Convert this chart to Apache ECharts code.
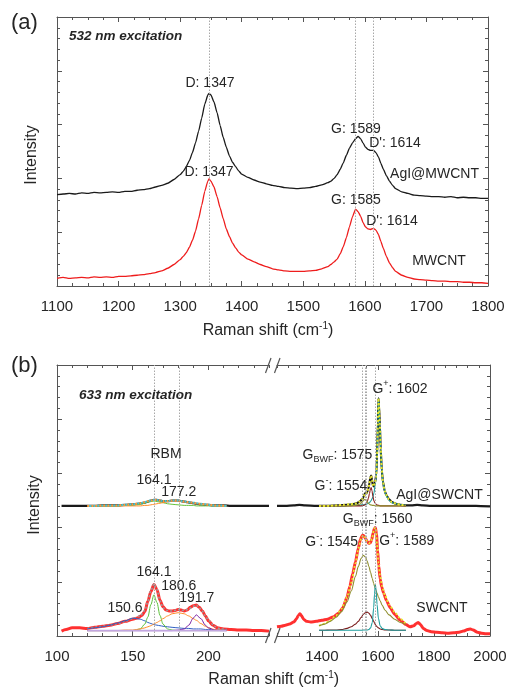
<!DOCTYPE html>
<html><head><meta charset="utf-8">
<script src="https://cdn.jsdelivr.net/npm/echarts@6/dist/echarts.min.js"></script>
<style>html,body{margin:0;padding:0;background:#fff}#c{width:506px;height:688px}</style>
</head><body><div id="c"></div>
<script>
// ---------- Panel (a): 532 nm ----------
const shiftA = [1100,1110,1120,1130,1140,1150,1160,1170,1180,1190,1200,1210,1220,1230,1240,1250,1260,1270,1280,1290,1300,
  1305,1310,1315,1320,1325,1330,1335,1340,1345,1347,1350,1355,1360,1365,1370,1375,1380,1385,1390,1395,1400,
  1410,1420,1430,1440,1450,1460,1470,1480,1490,1500,1510,1520,1530,1540,1545,1550,1555,1560,1565,1570,1575,1580,1585,
  1589,1593,1597,1601,1605,1609,1614,1618,1622,1626,1630,1635,1640,1645,1650,
  1660,1670,1680,1690,1700,1710,1720,1730,1740,1750,1760,1770,1780,1790,1800];
const agiMwcnt = [1.70,1.71,1.72,1.71,1.73,1.72,1.74,1.73,1.74,1.75,1.74,1.76,1.76,1.78,1.79,1.81,1.84,1.87,1.91,1.98,2.07,
  2.13,2.22,2.33,2.48,2.66,2.88,3.12,3.38,3.55,3.58,3.55,3.42,3.22,2.98,2.76,2.58,2.42,2.30,2.22,2.14,2.08,
  2.02,1.97,1.93,1.90,1.87,1.85,1.83,1.82,1.81,1.82,1.83,1.85,1.88,1.92,1.95,2.00,2.07,2.17,2.29,2.43,2.56,2.66,2.74,
  2.78,2.74,2.66,2.58,2.54,2.52,2.52,2.48,2.40,2.28,2.17,2.05,1.95,1.87,1.81,
  1.75,1.72,1.69,1.68,1.67,1.66,1.66,1.65,1.66,1.64,1.65,1.64,1.64,1.63,1.63];
const mwcnt = [0.14,0.16,0.14,0.15,0.16,0.15,0.17,0.16,0.17,0.16,0.18,0.18,0.19,0.20,0.21,0.23,0.25,0.28,0.33,0.40,0.49,
  0.55,0.62,0.72,0.85,1.02,1.25,1.50,1.76,1.95,1.99,1.95,1.84,1.66,1.45,1.25,1.06,0.92,0.80,0.71,0.63,0.58,
  0.50,0.45,0.40,0.36,0.32,0.30,0.28,0.27,0.27,0.27,0.28,0.29,0.32,0.36,0.40,0.45,0.50,0.60,0.73,0.90,1.10,1.29,1.43,
  1.38,1.30,1.18,1.10,1.06,1.05,1.07,1.04,0.96,0.83,0.70,0.55,0.43,0.34,0.27,
  0.20,0.16,0.13,0.12,0.11,0.10,0.09,0.09,0.08,0.08,0.07,0.07,0.06,0.06,0.05];
const vLinesA = [1347, 1585, 1614];
const xTicksA = [1100, 1200, 1300, 1400, 1500, 1600, 1700, 1800];

// ---------- Panel (b) left: RBM ----------
const shiftBL = [103,106,110,115,120,125,130,135,140,145,150,153,156,158,160,162,164,166,168,170,172,174,176,178,180,182,184,186,188,190,192,194,196,198,200,203,206,210,215,220,225,230,235,240];
const swcntL = [0.09,0.12,0.15,0.15,0.14,0.16,0.18,0.20,0.23,0.27,0.31,0.33,0.38,0.45,0.64,0.82,0.95,0.86,0.66,0.54,0.48,0.46,0.46,0.47,0.49,0.48,0.46,0.48,0.53,0.56,0.57,0.53,0.46,0.37,0.28,0.20,0.15,0.13,0.12,0.11,0.11,0.10,0.10,0.09];
const agiSwcntL = [2.40,2.40,2.40,2.40,2.40,2.40,2.41,2.41,2.41,2.42,2.43,2.44,2.45,2.46,2.48,2.50,2.51,2.51,2.50,2.49,2.49,2.49,2.50,2.50,2.50,2.49,2.48,2.47,2.46,2.45,2.44,2.43,2.43,2.42,2.42,2.41,2.41,2.41,2.40,2.40,2.40,2.40,2.40,2.40];
const fitLX = [120,125,130,135,140,145,150,155,158,160,162,164,166,168,170,173,176,180,184,187,190,192,195,198,200,204,208,212];
const fitL_total = [0.14,0.16,0.18,0.20,0.23,0.27,0.32,0.37,0.47,0.64,0.84,0.96,0.86,0.65,0.52,0.47,0.46,0.49,0.47,0.50,0.55,0.57,0.50,0.37,0.29,0.18,0.13,0.12];
const fitL_150 = [0.13,0.15,0.17,0.20,0.24,0.28,0.33,0.31,0.28,0.25,0.23,0.21,0.20,0.19,0.18,0.17,0.16,0.15,0.14,0.14,0.13,0.13,0.13,0.12,0.12,0.12,0.11,0.11];
const fitL_164 = [0.10,0.10,0.10,0.10,0.10,0.10,0.10,0.13,0.22,0.35,0.58,0.76,0.62,0.38,0.22,0.13,0.11,0.10,0.10,0.10,0.10,0.10,0.10,0.10,0.10,0.10,0.10,0.10];
const fitL_180 = [0.10,0.10,0.10,0.10,0.10,0.11,0.11,0.13,0.15,0.17,0.19,0.22,0.25,0.28,0.32,0.37,0.41,0.43,0.41,0.37,0.32,0.29,0.23,0.18,0.15,0.12,0.11,0.10];
const fitL_191 = [0.10,0.10,0.10,0.10,0.10,0.10,0.10,0.10,0.10,0.10,0.10,0.10,0.10,0.10,0.10,0.10,0.10,0.11,0.13,0.20,0.33,0.39,0.32,0.20,0.15,0.11,0.10,0.10];
const baseLX = [120, 212];
const baseL = [0.10, 0.10];
const fitL2_total = [2.40,2.40,2.41,2.41,2.41,2.42,2.43,2.45,2.47,2.49,2.50,2.51,2.51,2.50,2.49,2.49,2.50,2.50,2.48,2.47,2.46,2.45,2.44,2.43,2.42,2.41,2.41,2.40];
const fitL2_164 = [2.40,2.40,2.40,2.40,2.40,2.41,2.41,2.43,2.45,2.47,2.48,2.49,2.48,2.47,2.46,2.44,2.43,2.42,2.41,2.41,2.41,2.40,2.40,2.40,2.40,2.40,2.40,2.40];
const fitL2_177 = [2.40,2.40,2.40,2.40,2.40,2.40,2.40,2.40,2.41,2.41,2.42,2.43,2.44,2.45,2.46,2.48,2.49,2.49,2.47,2.46,2.45,2.44,2.43,2.42,2.42,2.41,2.40,2.40];
const vLinesBL = [164.1, 180.6];
const xTicksBL = [100, 150, 200];

// ---------- Panel (b) right: G band ----------
const shiftBR = [1240,1255,1270,1285,1300,1310,1316,1322,1328,1335,1345,1360,1380,1400,1420,1440,1460,1475,1490,1500,1510,1520,1530,1538,1545,1550,1556,1562,1568,1573,1578,1583,1587,1591,1595,1599,1603,1608,1614,1620,1630,1644,1660,1680,1700,1715,1728,1737,1744,1752,1762,1775,1790,1810,1830,1850,1870,1890,1905,1920,1930,1940,1955,1970,1985,2000];
const swcntR = [0.17,0.18,0.20,0.22,0.26,0.32,0.38,0.41,0.37,0.31,0.27,0.26,0.27,0.29,0.31,0.35,0.42,0.52,0.72,0.92,1.15,1.37,1.62,1.79,1.86,1.85,1.80,1.74,1.71,1.72,1.78,1.90,1.98,2.00,1.88,1.58,1.30,1.05,0.90,0.80,0.66,0.52,0.40,0.29,0.21,0.17,0.19,0.23,0.25,0.21,0.14,0.10,0.08,0.07,0.06,0.05,0.06,0.07,0.09,0.12,0.13,0.11,0.07,0.05,0.04,0.04];
const shiftBR2 = [1240,1270,1300,1320,1340,1380,1420,1460,1490,1510,1525,1535,1545,1550,1554,1558,1562,1566,1570,1573,1576,1579,1582,1586,1590,1594,1597,1600,1602,1604,1607,1610,1614,1618,1624,1630,1640,1650,1665,1680,1700,1720,1740,1760,1790,1830,1870,1910,1950,2000];
const agiSwcntR = [2.40,2.40,2.41,2.42,2.41,2.40,2.40,2.41,2.42,2.43,2.45,2.48,2.53,2.58,2.63,2.62,2.66,2.72,2.82,2.92,2.96,2.88,2.78,2.76,2.84,2.97,3.30,3.95,4.385,4.25,3.90,3.45,3.05,2.85,2.68,2.60,2.52,2.47,2.44,2.42,2.41,2.41,2.42,2.41,2.40,2.40,2.40,2.40,2.40,2.39];
const fitR1X = [1390,1420,1450,1480,1500,1515,1525,1535,1540,1545,1550,1554,1558,1562,1566,1570,1573,1576,1579,1582,1586,1590,1594,1597,1600,1602,1604,1607,1610,1614,1618,1624,1630,1640,1650,1665,1680,1700];
const fitR1_total = [2.40,2.40,2.41,2.42,2.43,2.44,2.45,2.48,2.50,2.53,2.58,2.63,2.62,2.66,2.72,2.82,2.92,2.96,2.88,2.78,2.76,2.84,2.97,3.30,3.95,4.385,4.25,3.90,3.45,3.05,2.85,2.68,2.60,2.52,2.47,2.44,2.42,2.41];
const fitR1_Gp = [2.40,2.40,2.40,2.40,2.41,2.41,2.41,2.41,2.42,2.42,2.42,2.43,2.43,2.44,2.45,2.46,2.48,2.50,2.53,2.56,2.64,2.78,2.93,3.28,3.94,4.38,4.24,3.89,3.44,3.04,2.84,2.67,2.58,2.50,2.46,2.44,2.42,2.41];
const fitR1_BWF = [2.40,2.40,2.40,2.40,2.40,2.40,2.40,2.40,2.40,2.41,2.41,2.42,2.44,2.48,2.54,2.63,2.70,2.74,2.68,2.58,2.49,2.45,2.43,2.42,2.41,2.41,2.41,2.40,2.40,2.40,2.40,2.40,2.40,2.40,2.40,2.40,2.40,2.40];
const fitR1_Gm = [2.40,2.40,2.40,2.40,2.40,2.41,2.42,2.43,2.45,2.48,2.51,2.52,2.51,2.48,2.45,2.43,2.42,2.42,2.41,2.41,2.41,2.40,2.40,2.40,2.40,2.40,2.40,2.40,2.40,2.40,2.40,2.40,2.40,2.40,2.40,2.40,2.40,2.40];
const fitR2X = [1390,1410,1430,1450,1470,1490,1505,1520,1530,1540,1548,1555,1562,1568,1574,1580,1585,1588,1591,1594,1597,1602,1608,1615,1625,1640,1660,1680,1700];
const fitR2_total = [0.19,0.23,0.29,0.37,0.50,0.72,0.98,1.34,1.60,1.80,1.86,1.82,1.74,1.71,1.73,1.82,1.94,1.99,2.00,1.90,1.68,1.35,1.10,0.92,0.75,0.58,0.44,0.32,0.22];
const fitR2_Gm = [0.19,0.22,0.27,0.34,0.45,0.63,0.83,1.10,1.28,1.43,1.49,1.46,1.38,1.28,1.17,1.06,0.97,0.92,0.87,0.83,0.79,0.72,0.65,0.57,0.48,0.39,0.31,0.25,0.21];
const fitR2_BWF = [0.105,0.105,0.11,0.11,0.12,0.14,0.17,0.22,0.27,0.34,0.40,0.43,0.44,0.42,0.38,0.32,0.27,0.24,0.21,0.19,0.17,0.15,0.13,0.12,0.11,0.11,0.105,0.105,0.105];
const fitR2_Gp = [0.105,0.105,0.105,0.105,0.105,0.105,0.105,0.105,0.105,0.105,0.11,0.11,0.11,0.12,0.15,0.25,0.52,0.78,0.95,0.82,0.58,0.32,0.19,0.14,0.12,0.11,0.105,0.105,0.105];
const vLinesBR = [1545, 1554, 1560, 1589];
const xTicksBR = [1400, 1600, 1800, 2000];

// ---------- rendering ----------
const FONT = '"Liberation Sans", Arial, Helvetica, sans-serif';
const AX = '#555';
const TXT = '#262626';
const chart = echarts.init(document.getElementById('c'));
const pairs = (xs, ys) => xs.map((x, i) => [x, ys[i]]);

function xAxisDef(grid, pos, min, max, interval, o) {
  o = o || {};
  return {
    type: 'value', gridIndex: grid, position: pos, min, max, interval,
    axisLine: { show: o.line !== false, onZero: false, lineStyle: { color: AX, width: 1 } },
    axisTick: Object.assign({ show: true, inside: true, length: o.tickLen || 5, lineStyle: { color: AX } }, o.tickCustom ? { customValues: o.tickCustom } : {}),
    minorTick: { show: !!o.minor, splitNumber: o.minor || 5, length: 3, lineStyle: { color: AX } },
    axisLabel: Object.assign({ show: !!o.labels, fontSize: 15, color: TXT, fontFamily: FONT, margin: 13,
      formatter: v => String(v) }, o.labels && o.labels !== true ? { customValues: o.labels } : {}),
    splitLine: { show: false }, minorSplitLine: { show: false }
  };
}
function yAxisDef(grid, pos) {
  return {
    type: 'value', gridIndex: grid, position: pos, min: 0, max: 5, interval: 1,
    axisLine: { show: true, onZero: false, lineStyle: { color: AX, width: 1 } },
    axisTick: { show: true, inside: true, length: 5, lineStyle: { color: AX } },
    minorTick: { show: true, splitNumber: 5, length: 3, lineStyle: { color: AX } },
    axisLabel: { show: false }, splitLine: { show: false }
  };
}

const xAxes = [
  xAxisDef(0, 'bottom', 1100, 1800, 100, { minor: 4, labels: xTicksA }),
  xAxisDef(0, 'top', 1100, 1800, 100, { minor: 4 }),
  // b-left major / minor (bottom, top)
  xAxisDef(1, 'bottom', 100, 240, 10, { tickCustom: xTicksBL, labels: xTicksBL }),
  xAxisDef(1, 'bottom', 100, 240, 10, { line: false, tickLen: 3 }),
  xAxisDef(1, 'top', 100, 240, 10, { tickCustom: xTicksBL }),
  xAxisDef(1, 'top', 100, 240, 10, { line: false, tickLen: 3 }),
  // b-right
  xAxisDef(2, 'bottom', 1240, 2000, 40, { tickCustom: xTicksBR, labels: xTicksBR }),
  xAxisDef(2, 'bottom', 1240, 2000, 40, { line: false, tickLen: 3 }),
  xAxisDef(2, 'top', 1240, 2000, 40, { tickCustom: xTicksBR }),
  xAxisDef(2, 'top', 1240, 2000, 40, { line: false, tickLen: 3 })
];
const yAxes = [yAxisDef(0, 'left'), yAxisDef(0, 'right'), yAxisDef(1, 'left'), yAxisDef(2, 'right')];

function S(xs, ys, xi, yi, color, width, extra) {
  return Object.assign({
    type: 'line', xAxisIndex: xi, yAxisIndex: yi, data: pairs(xs, ys),
    symbol: 'none', showSymbol: false, silent: true, animation: false,
    smooth: 0.3, smoothMonotone: 'x',
    lineStyle: { color, width }
  }, extra || {});
}
function vlines(vals) {
  return {
    silent: true, symbol: ['none', 'none'], animation: false,
    label: { show: false },
    lineStyle: { color: '#a8a8a8', type: [1.5, 1.5], width: 1 },
    data: vals.map(v => ({ xAxis: v }))
  };
}
const dotted = (c, w, off) => ({ lineStyle: { color: c, width: w, type: [2, 2], dashOffset: off || 0 } });

const series = [
  S(shiftA, agiMwcnt, 0, 0, '#1a1a1a', 1.3, { smooth: 0.15 }),
  S(shiftA, mwcnt, 0, 0, '#ee1c1c', 1.3, { smooth: 0.15, markLine: vlines(vLinesA) }),

  // b-left
  S(shiftBL, agiSwcntL, 2, 2, '#1a1a1a', 2.2),
  S(shiftBL, swcntL, 2, 2, '#ff3030', 3, { markLine: vlines(vLinesBL) }),
  S(fitLX, fitL2_164, 2, 2, '#66c23a', 1),
  S(fitLX, fitL2_177, 2, 2, '#ff8c2a', 1),
  S(fitLX, fitL2_total, 2, 2, '#ff9a3c', 2, dotted('#ff9a3c', 2, 0)),
  S(fitLX, fitL2_total, 2, 2, '#4cc3cf', 2, dotted('#4cc3cf', 2, 2)),
  S(fitLX, fitL_total, 2, 2, '#9a9a9a', 1.6, dotted('#9a9a9a', 1.6)),
  S(fitLX, fitL_150, 2, 2, '#2f5fc4', 1),
  S(fitLX, fitL_164, 2, 2, '#5cc23a', 1),
  S(fitLX, fitL_180, 2, 2, '#ff8c2a', 1),
  S(fitLX, fitL_191, 2, 2, '#7b1fa2', 1),
  S(baseLX, baseL, 2, 2, '#c2a6e0', 1.6, { smooth: false }),

  // b-right
  S(shiftBR2, agiSwcntR, 6, 3, '#1a1a1a', 2.2, { smooth: 0.2 }),
  S(shiftBR, swcntR, 6, 3, '#ff3030', 3, { smooth: 0.2, markLine: vlines(vLinesBR) }),
  S(fitR1X, fitR1_Gp, 6, 3, '#1f9e9e', 1.1),
  S(fitR1X, fitR1_BWF, 6, 3, '#8a1f1f', 1.1),
  S(fitR1X, fitR1_Gm, 6, 3, '#8f8f2e', 1.1),
  S(fitR1X, fitR1_total, 6, 3, '#e6e62e', 2, Object.assign({ smooth: 0.2 }, dotted('#e6e62e', 2))),
  S(fitR2X, fitR2_total, 6, 3, '#e6e62e', 1.8, Object.assign({ smooth: 0.2 }, dotted('#e6e62e', 1.8))),
  S(fitR2X, fitR2_Gm, 6, 3, '#8f8f2e', 1.1),
  S(fitR2X, fitR2_BWF, 6, 3, '#7a1a1a', 1.1),
  S(fitR2X, fitR2_Gp, 6, 3, '#1f9e9e', 1.1)
];

// text helpers
const RICH = {
  n: { fontSize: 14, fontFamily: FONT, fill: TXT, color: TXT, lineHeight: 19 },
  sup: { fontSize: 9, fontFamily: FONT, fill: TXT, color: TXT, verticalAlign: 'top', lineHeight: 9 },
  sub: { fontSize: 9, fontFamily: FONT, fill: TXT, color: TXT, verticalAlign: 'bottom', lineHeight: 9 }
};
function T(x, y, text, o) {
  o = o || {};
  const st = {
    text, fontSize: o.size || 14, fontFamily: FONT, fill: TXT,
    fontWeight: o.weight || 'normal', fontStyle: o.style || 'normal',
    align: o.align || 'center', verticalAlign: 'middle'
  };
  if (o.rich) st.rich = o.rich;
  const el = { type: 'text', x, y, silent: true, z: 100, style: st };
  if (o.rot) el.rotation = o.rot;
  return el;
}
function richFor(size) {
  return {
    n: Object.assign({}, RICH.n, { fontSize: size }),
    sup: Object.assign({}, RICH.sup, { fontSize: Math.round(size * 0.65) }),
    sub: Object.assign({}, RICH.sub, { fontSize: Math.round(size * 0.62) })
  };
}
const slash = (x1, y1, x2, y2) => ({ type: 'line', silent: true, z: 100, shape: { x1, y1, x2, y2 }, style: { stroke: AX, lineWidth: 1.2 } });

const graphics = [
  T(11, 23, '(a)', { size: 22, align: 'left' }),
  T(69, 36, '532 nm excitation', { size: 13.5, weight: 'bold', style: 'italic', align: 'left' }),
  T(210, 83, 'D: 1347'),
  T(356, 129, 'G: 1589'),
  T(395, 143, "D': 1614"),
  T(434.5, 174, 'AgI@MWCNT'),
  T(209, 172, 'D: 1347'),
  T(356, 200, 'G: 1585'),
  T(392, 221, "D': 1614"),
  T(439, 261, 'MWCNT'),
  T(31.5, 155, 'Intensity', { size: 16, rot: Math.PI / 2 }),
  T(268, 331, '{n|Raman shift (cm}{sup|-1}{n|)}', { size: 16, rich: richFor(16) }),

  T(11, 366, '(b)', { size: 22, align: 'left' }),
  T(79, 395, '633 nm excitation', { size: 13.5, weight: 'bold', style: 'italic', align: 'left' }),
  T(166, 454, 'RBM'),
  T(154, 480, '164.1'),
  T(178.7, 492, '177.2'),
  T(337.5, 455, '{n|G}{sub|BWF}{n|: 1575}', { rich: richFor(14) }),
  T(341, 486, '{n|G}{sup|-}{n|: 1554}', { rich: richFor(14) }),
  T(400, 389, '{n|G}{sup|+}{n|: 1602}', { rich: richFor(14) }),
  T(439.5, 495, 'AgI@SWCNT'),
  T(377.7, 519, '{n|G}{sub|BWF}{n|: 1560}', { rich: richFor(14) }),
  T(331.7, 542, '{n|G}{sup|-}{n|: 1545}', { rich: richFor(14) }),
  T(406.7, 541, '{n|G}{sup|+}{n|: 1589}', { rich: richFor(14) }),
  T(442, 608, 'SWCNT'),
  T(154, 572, '164.1'),
  T(178.7, 586, '180.6'),
  T(196.7, 598, '191.7'),
  T(125, 608, '150.6'),
  T(35, 505, 'Intensity', { size: 16, rot: Math.PI / 2 }),
  T(273.7, 680, '{n|Raman shift (cm}{sup|-1}{n|)}', { size: 16, rich: richFor(16) }),

  slash(265.5, 373, 271, 358), slash(274.5, 373, 280, 358),
  slash(265.5, 643, 271, 628), slash(274.5, 643, 280, 628)
];

chart.setOption({
  backgroundColor: '#fff',
  animation: false,
  grid: [
    { left: 57, top: 17, width: 431, height: 269, outerBoundsMode: 'none', containLabel: false },
    { left: 57, top: 365, width: 212, height: 271, outerBoundsMode: 'none', containLabel: false },
    { left: 277, top: 365, width: 213, height: 271, outerBoundsMode: 'none', containLabel: false }
  ],
  xAxis: xAxes,
  yAxis: yAxes,
  series,
  graphic: graphics
});
</script>
</body></html>
